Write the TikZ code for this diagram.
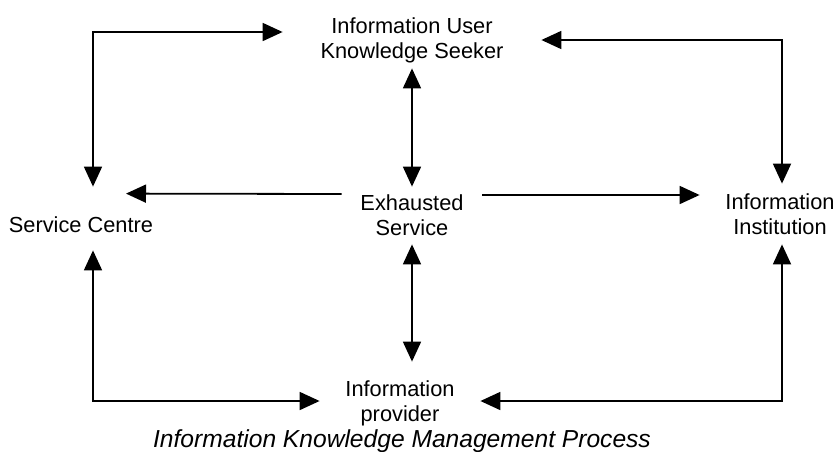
\documentclass[tikz,border=0pt]{standalone}
\usepackage{fontspec}
\setmainfont{Liberation Sans}
\usepackage{tikz}
\usetikzlibrary{arrows.meta}

\begin{document}
\begin{tikzpicture}[
    x=0.5pt, y=-0.5pt,
    txt/.style={inner sep=0pt, align=center, font=\fontsize{10.9}{12.5}\selectfont},
    arrow/.style={-{Triangle[length=10pt, width=9pt]}, line width=0.9pt},
    both/.style={{Triangle[length=10pt, width=9pt]}-{Triangle[length=10pt, width=9pt]}, line width=0.9pt},
    caption/.style={inner sep=0pt, font=\fontsize{12.3}{13}\selectfont\itshape}
]
\useasboundingbox (0,0) rectangle (835,451);

% Actors
\node[txt, minimum width=129pt, minimum height=28pt] (user) at (412,40) {Information User\\Knowledge Seeker};
\node[txt, minimum width=70pt, minimum height=28.5pt] (core) at (412,215.5) {Exhausted\\Service};
\node[txt, minimum height=31pt] (centre) at (81,225) {Service Centre};
\node[txt, minimum width=80pt, minimum height=30pt] (inst) at (780,214) {Information\\Institution};
\node[txt, minimum width=80pt, minimum height=41pt] (provider) at (400,403) {Information\\provider};

% Title
\node[caption] (title) at (402,441) {Information Knowledge Management Process};

% Outer loop
\draw[both] ([yshift=4pt]user.west) -| ([shift={(6pt,3.5pt)}]centre.north);
\draw[both] (user.east) -| ([xshift=1pt]inst.north);
\draw[both] ([shift={(6pt,3pt)}]centre.south) |- ([yshift=1pt]provider.west);
\draw[both] ([xshift=1pt]inst.south) |- ([yshift=1pt]provider.east);

% From the service in the middle
\draw[both] (user.south) -- (core.north);
\draw[both] (core.south) -- (core.south |- provider.north);
\draw[arrow] ([yshift=10.75pt]core.west) -- ([xshift=22.5pt]centre.north);
\draw[arrow] ([yshift=10.25pt]core.east) -- ([yshift=9.5pt]inst.west);

\end{tikzpicture}
\end{document}
